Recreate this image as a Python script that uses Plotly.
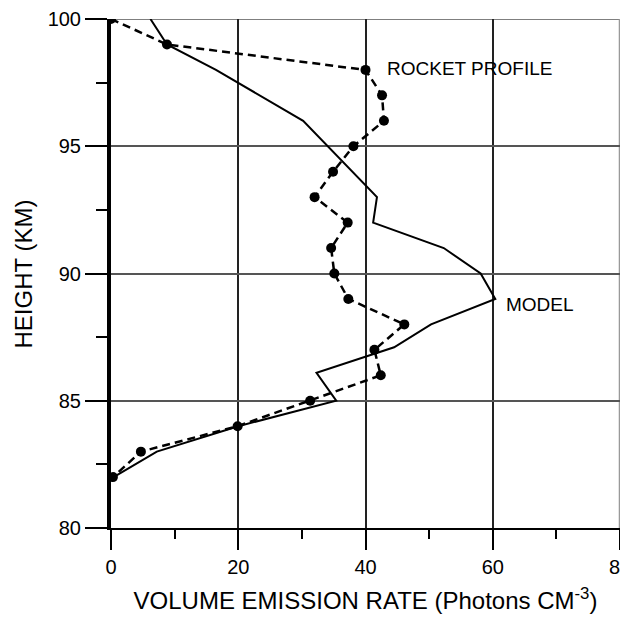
import plotly.graph_objects as go

# Heights (km) and emission rates (photons cm^-3)
model_height = [100, 99, 98, 96, 93, 92, 91, 90, 89, 88, 87.1, 86.1, 85, 84, 83, 82]
model_rate = [6.2, 8.8, 16.5, 30.2, 41.8, 41.2, 52.3, 58.1, 60.4, 50.3, 44.5, 32.3, 35.4, 20.0, 7.2, 0.4]

rocket_height = [100, 99, 98, 97, 96, 95, 94, 93, 92, 91, 90, 89, 88, 87, 86, 85, 84, 83, 82]
rocket_rate = [0.0, 8.8, 40.0, 42.6, 42.9, 38.1, 34.9, 32.0, 37.2, 34.6, 35.1, 37.3,
               46.1, 41.4, 42.4, 31.3, 19.9, 4.7, 0.3]

x_ticks = [0, 20, 40, 60, 80]
y_ticks = [80, 85, 90, 95, 100]

FONT = "Arial, Liberation Sans, sans-serif"

fig = go.Figure()

fig.add_trace(go.Scatter(
    x=model_rate, y=model_height, mode="lines",
    line=dict(color="black", width=2),
    showlegend=False, hoverinfo="skip",
))

fig.add_trace(go.Scatter(
    x=rocket_rate, y=rocket_height, mode="lines+markers",
    line=dict(color="black", width=2.5, dash="8px,5px"),
    marker=dict(color="black", size=10),
    showlegend=False, hoverinfo="skip",
))

fig.add_annotation(x=43.0, y=98.07, text="ROCKET PROFILE", showarrow=False,
                   xanchor="left", yanchor="middle",
                   font=dict(family=FONT, size=19, color="black"))
fig.add_annotation(x=61.7, y=88.8, text="MODEL", showarrow=False,
                   xanchor="left", yanchor="middle",
                   font=dict(family=FONT, size=19, color="black"))

# vertical axis title
fig.add_annotation(xref="paper", yref="paper", x=0, y=0.5, xshift=-88, yshift=-1,
                   text="HEIGHT (KM)", textangle=-90, showarrow=False,
                   xanchor="center", yanchor="middle",
                   font=dict(family=FONT, size=24, color="black"))

# frame lines along the top (100 km) and right (80) edges of the plotting area
fig.add_shape(type="line", xref="x domain", yref="y", x0=0, x1=1, y0=100, y1=100,
              line=dict(color="#555555", width=1.5), layer="below")
fig.add_shape(type="line", xref="x domain", yref="y domain", x0=0.999, x1=0.999, y0=0, y1=1,
              line=dict(color="#999999", width=1.5), layer="below")

fig.update_xaxes(
    range=[0, 80], tickvals=x_ticks, ticktext=[str(v) for v in x_ticks],
    ticks="outside", ticklen=20, tickwidth=2, tickcolor="black",
    minor=dict(dtick=10, tick0=0, ticks="outside", ticklen=9, tickwidth=2, tickcolor="black", showgrid=False),
    showgrid=True, gridcolor="#222222", gridwidth=1.5,
    showline=True, linecolor="black", linewidth=2,
    zeroline=False, automargin=False, ticklabeloverflow="allow",
    tickfont=dict(family=FONT, size=20, color="black"),
    title=dict(text="VOLUME EMISSION RATE (Photons CM<sup>-3</sup>)",
               font=dict(family=FONT, size=24, color="black"), standoff=15),
)

fig.update_yaxes(
    range=[80, 100], tickvals=y_ticks, ticktext=[str(v) for v in y_ticks],
    ticks="outside", ticklen=22, tickwidth=2, tickcolor="black",
    minor=dict(dtick=2.5, tick0=80, ticks="outside", ticklen=11, tickwidth=2, tickcolor="black", showgrid=False),
    showgrid=True, gridcolor="#555555", gridwidth=1.5,
    showline=True, linecolor="black", linewidth=4,
    zeroline=False, automargin=False,
    tickfont=dict(family=FONT, size=20, color="black"),
)

fig.update_layout(
    width=620, height=619,
    margin=dict(l=111, r=0, t=19, b=91),
    paper_bgcolor="white", plot_bgcolor="white",
)

fig.write_html("out.html")
